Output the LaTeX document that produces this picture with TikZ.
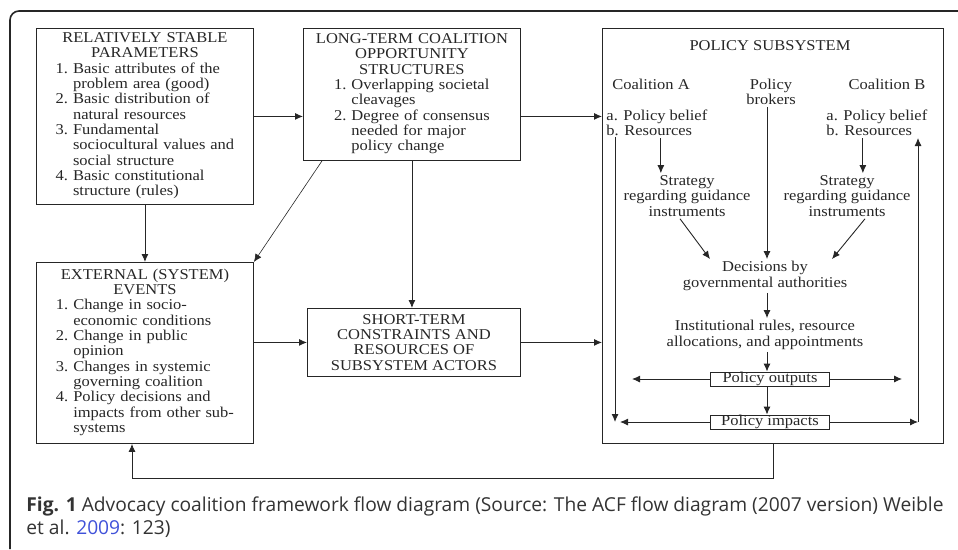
\documentclass[tikz,border=0pt]{standalone}
\usepackage{fontspec}
\setmainfont{Liberation Serif}[FakeStretch=1.1]
\newfontfamily\capfont{Open Sans}
\usetikzlibrary{arrows.meta}
\definecolor{linkblue}{HTML}{3F51D9}
\definecolor{capgray}{HTML}{333333}
\definecolor{ink}{HTML}{262626}

\begin{document}
\begin{tikzpicture}[x=1pt, y=-1pt, ->, >={Latex[length=8pt,width=7pt]},
  line width=0.9pt, draw=ink,
every node/.style = {font=\fontsize{15}{15.3}\selectfont, text=ink, inner sep=2pt},
box/.style = {draw=ink, line width=0.9pt, align=center, inner sep=4pt},
tag/.style = {draw=ink, line width=0.9pt, inner xsep=1.5pt, inner ysep=0.5pt,
  minimum width=119pt, text height=10pt, text depth=3pt}
]
\useasboundingbox (0,0) rectangle (958,549);

% frame
\draw[-, line width=1.6pt, rounded corners=9pt] (10,549) -- (10,11) -- (958,11);

% outer boxes
\node[box, text width=209pt, minimum height=176pt, anchor=north west] (stable) at (36,28)
  {RELATIVELY STABLE\\PARAMETERS\\
   \begin{tabular}[t]{@{}r@{~}l@{}}
   1. & Basic attributes of the\\
      & problem area (good)\\
   2. & Basic distribution of\\
      & natural resources\\
   3. & Fundamental\\
      & sociocultural values and\\
      & social structure\\
   4. & Basic constitutional\\
      & structure (rules)
   \end{tabular}};
\node[box, text width=209pt, minimum height=132pt, anchor=north west] (longterm) at (303,28)
  {LONG-TERM COALITION\\OPPORTUNITY\\STRUCTURES\\
   \begin{tabular}[t]{@{}r@{~}l@{}}
   1. & Overlapping societal\\
      & cleavages\\
   2. & Degree of consensus\\
      & needed for major\\
      & policy change
   \end{tabular}};
\node[box, text width=209pt, minimum height=181pt, anchor=north west] (external) at (36,262)
  {EXTERNAL (SYSTEM)\\EVENTS\\
   \begin{tabular}[t]{@{}r@{~}l@{}}
   1. & Change in socio-\\
      & economic conditions\\
   2. & Change in public\\
      & opinion\\
   3. & Changes in systemic\\
      & governing coalition\\
   4. & Policy decisions and\\
      & impacts from other sub-\\
      & systems
   \end{tabular}};
\node[box, minimum width=213pt, minimum height=68pt, anchor=north west] (shortterm) at (307,308)
  {SHORT-TERM\\CONSTRAINTS AND\\RESOURCES OF\\SUBSYSTEM ACTORS};
\node[box, minimum width=341pt, minimum height=415pt, anchor=north west] (subsys) at (602,28) {};

% inside the subsystem
\node (title) at (770,46) {POLICY SUBSYSTEM};
\node (coalA) at (651,84) {Coalition A};
\node[align=center] (brokers) at (771,92) {Policy\\brokers};
\node (coalB) at (887,84) {Coalition B};
\node[align=left, anchor=west] (resA) at (604,123) {a. Policy belief\\b. Resources};
\node[align=left, anchor=west] (resB) at (824,123) {a. Policy belief\\b. Resources};
\node[align=center] (stratA) at (687,196) {Strategy\\regarding guidance\\instruments};
\node[align=center] (stratB) at (847,196) {Strategy\\regarding guidance\\instruments};
\node[align=center] (decide) at (765,276) {Decisions by\\governmental authorities};
\node[align=center] (rules) at (765,335) {Institutional rules, resource\\allocations, and appointments};
\node[tag] (outputs) at (770,379) {Policy outputs};
\node[tag] (impacts) at (770,422) {Policy impacts};

\coordinate (oL) at (632,379);
\coordinate (oR) at (902,379);
\coordinate (lTop) at (615,137);
\coordinate (rTop) at (918,138);
\coordinate (fb) at (132,478);

% connectors between boxes
\draw (stable.east) -- (stable.east -| longterm.west);
\draw (stable.east -| longterm.east) -- (stable.east -| subsys.west);
\draw (stable.south) -- (external.north);
\draw[line width=0.6pt] ([xshift=19pt]longterm.south west) -- (external.north east);
\draw (longterm.south) -- (longterm.south |- shortterm.north);
\draw (external.east |- shortterm.west) -- (shortterm.west);
\draw (shortterm.east) -- (shortterm.east -| subsys.west);
\draw (subsys.south) |- (fb) -- (fb |- external.south);

% connectors in the subsystem
\draw ([xshift=4pt]resA.south) -- ([xshift=4pt]resA.south |- stratA.north);
\draw ([xshift=-14pt]resB.south) -- ([xshift=-14pt]resB.south |- stratB.north);
\draw ([xshift=-7pt]stratA.south) -- ([xshift=-55pt]decide.north);
\draw ([xshift=18pt]stratB.south) -- ([xshift=67pt]decide.north);
\draw ([xshift=-4pt]brokers.south) -- ([xshift=-4pt]brokers.south |- decide.north);
\draw ([xshift=2pt]decide.south) -- ([xshift=2pt]rules.north);
\draw ([xshift=-3pt]outputs.north |- rules.south) -- ([xshift=-3pt]outputs.north);
\draw (outputs.west) -- (oL);
\draw (outputs.east) -- (oR);
\draw ([xshift=-3pt]outputs.south) -- ([xshift=-3pt]outputs.south |- impacts.north);
\draw (lTop) -- (lTop |- impacts.west);
\draw (impacts.west) -- ([xshift=5pt]impacts.west -| lTop);
\draw (impacts.east) -- (impacts.east -| rTop);
\draw (impacts.east -| rTop) -- (rTop);

% caption
\node[anchor=north west, align=left, inner sep=0pt, text=capgray,
  font=\capfont\fontsize{19.2}{23}\selectfont] (caption) at (26,496)
  {\textbf{Fig. 1} Advocacy coalition framework flow diagram (Source: The ACF flow diagram (2007 version) Weible\\
   et al. {\color{linkblue}2009}: 123)};
\end{tikzpicture}
\end{document}
